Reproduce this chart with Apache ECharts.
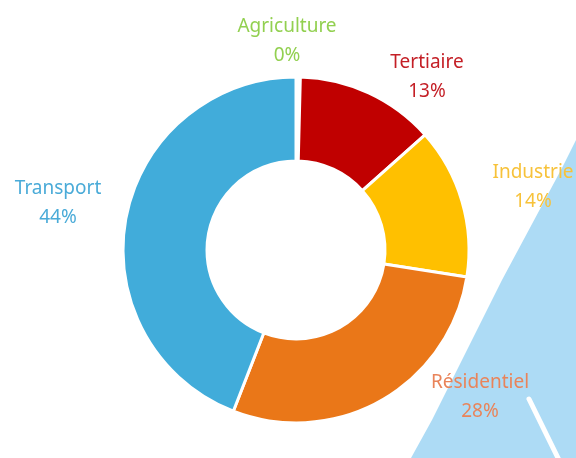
<!DOCTYPE html>
<html>
<head>
<meta charset="utf-8">
<script src="https://cdn.jsdelivr.net/npm/echarts@6/dist/echarts.min.js"></script>
<style>
html,body{margin:0;padding:0;background:#fff;}
#chart{width:576px;height:458px;}
</style>
</head>
<body>
<div id="chart"></div>
<script>
const categories = ['Agriculture', 'Tertiaire', 'Industrie', 'Résidentiel', 'Transport'];
const shares = [0.4, 13.0, 14.1, 28.4, 44.1];

// the 0 % slice is hidden by the white separators in the reference
const sliceColors = ['#ffffff', '#C00000', '#FFC000', '#EA7718', '#41ACDA'];
const labelColors = ['#92D050', '#C41F26', '#F7C23A', '#E9845A', '#4AABD8'];
const labelCenters = [[287, 41], [427, 77], [533, 187], [480, 397], [58, 203]];

const chart = echarts.init(document.getElementById('chart'), null, {renderer: 'canvas'});
const fontFamily = '"Noto Sans", sans-serif';

chart.setOption({
  animation: false,
  backgroundColor: '#ffffff',
  graphic: [
    {
      type: 'polygon',
      z: -10,
      silent: true,
      shape: {points: [[576, 140], [562, 168], [502, 280], [432, 420], [411, 458], [576, 458]]},
      style: {fill: '#ADDBF5'}
    },
    {
      type: 'line',
      z: -9,
      silent: true,
      shape: {x1: 529, y1: 399, x2: 559, y2: 460},
      style: {stroke: '#ffffff', lineWidth: 5, lineCap: 'round'}
    }
  ],
  series: [{
    type: 'pie',
    center: [296, 250],
    radius: [89, 173],
    startAngle: 90,
    clockwise: true,
    avoidLabelOverlap: false,
    itemStyle: {borderColor: '#ffffff', borderWidth: 3},
    label: {
      show: true,
      position: 'outside',
      fontFamily: fontFamily,
      fontSize: 19,
      lineHeight: 29,
      align: 'center',
      formatter: p => p.name + '\n' + Math.round(p.value) + '%'
    },
    labelLine: {show: false},
    labelLayout: function (params) {
      const c = labelCenters[params.dataIndex];
      return {x: c[0], y: c[1], align: 'center', verticalAlign: 'middle'};
    },
    emphasis: {disabled: true},
    data: categories.map((name, i) => ({
      name: name,
      value: shares[i],
      itemStyle: {color: sliceColors[i]},
      label: {color: labelColors[i]}
    }))
  }]
});
</script>
</body>
</html>
